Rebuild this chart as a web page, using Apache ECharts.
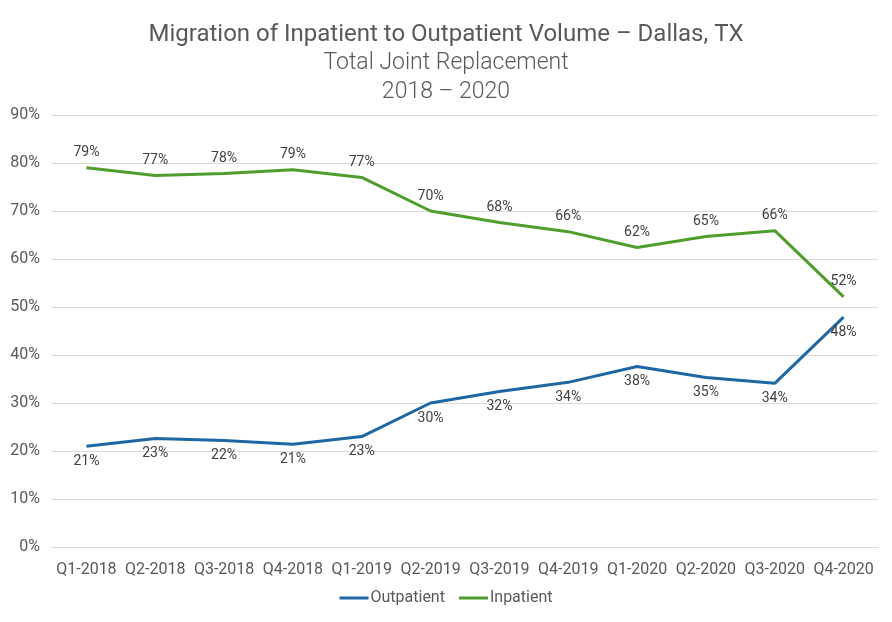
<!DOCTYPE html>
<html lang="en">
<head>
    <meta charset="UTF-8">
    <title>Migration of Inpatient to Outpatient Volume</title>
    <script src="https://cdn.jsdelivr.net/npm/echarts@6/dist/echarts.min.js"></script>
    <style>
        html, body { margin: 0; padding: 0; background: #fff; }
    </style>
</head>
<body>
<div id="main" style="width: 892px;height:622px;"></div>
<script type="text/javascript">
    // quarters on the x axis
    var quarters = ['Q1-2018', 'Q2-2018', 'Q3-2018', 'Q4-2018', 'Q1-2019', 'Q2-2019',
                    'Q3-2019', 'Q4-2019', 'Q1-2020', 'Q2-2020', 'Q3-2020', 'Q4-2020'];
    // share of volume, percent
    var outpatient = [21.0, 22.6, 22.2, 21.4, 23.0, 30.0, 32.4, 34.3, 37.6, 35.3, 34.1, 47.9];
    var inpatient  = [79.0, 77.4, 77.8, 78.6, 77.0, 70.0, 67.6, 65.7, 62.4, 64.7, 65.9, 52.1];
    var yTicks = [0, 10, 20, 30, 40, 50, 60, 70, 80, 90];

    var myChart = echarts.init(document.getElementById('main'));

    var labelStyle = {
        show: true,
        fontFamily: 'Roboto',
        fontSize: 14,
        color: '#404040',
        distance: 8,
        formatter: function (p) { return Math.round(p.value) + '%'; }
    };

    myChart.setOption({
        backgroundColor: '#ffffff',
        textStyle: { fontFamily: 'Roboto' },
        title: [
            {
                text: 'Migration of Inpatient to Outpatient Volume \u2013 Dallas, TX',
                left: 'center',
                top: 18,
                textStyle: { fontFamily: 'Roboto', fontWeight: 'normal', fontSize: 24, color: '#595959' }
            },
            {
                text: 'Total Joint Replacement\n2018 \u2013 2020',
                left: 'center',
                top: 44,
                textStyle: { fontFamily: 'Roboto', fontWeight: 300, fontSize: 23, lineHeight: 29, color: '#595959' }
            }
        ],
        legend: {
            bottom: 11,
            left: 'center',
            data: ['Outpatient', 'Inpatient'],
            icon: 'rect',
            itemWidth: 29,
            itemHeight: 3,
            itemGap: 14,
            textStyle: { fontFamily: 'Roboto', fontSize: 16, color: '#595959', padding: [0, 0, 0, -3] }
        },
        grid: {
            left: 52,
            right: 14,
            top: 115,
            bottom: 75,
            containLabel: false
        },
        xAxis: {
            type: 'category',
            data: quarters,
            boundaryGap: true,
            axisLine: { show: true, lineStyle: { color: '#d9d9d9' } },
            axisTick: { show: false },
            axisLabel: { fontFamily: 'Roboto', fontSize: 16, color: '#595959', margin: 15, interval: 0 }
        },
        yAxis: {
            type: 'value',
            min: yTicks[0],
            max: yTicks[yTicks.length - 1],
            interval: 10,
            axisLine: { show: false },
            axisTick: { show: false },
            splitLine: { lineStyle: { color: '#d9d9d9', width: 1 } },
            axisLabel: { fontFamily: 'Roboto', fontSize: 16, color: '#595959', margin: 12, formatter: '{value}%' }
        },
        series: [
            {
                name: 'Outpatient',
                type: 'line',
                data: outpatient,
                symbol: 'circle',
                symbolSize: 0,
                showSymbol: true,
                lineStyle: { width: 3, color: '#1f67a3' },
                itemStyle: { color: '#1f67a3' },
                label: Object.assign({}, labelStyle, { position: 'bottom' })
            },
            {
                name: 'Inpatient',
                type: 'line',
                data: inpatient,
                symbol: 'circle',
                symbolSize: 0,
                showSymbol: true,
                lineStyle: { width: 3, color: '#4f9d2d' },
                itemStyle: { color: '#4f9d2d' },
                label: Object.assign({}, labelStyle, { position: 'top' })
            }
        ]
    });
</script>
</body>
</html>
